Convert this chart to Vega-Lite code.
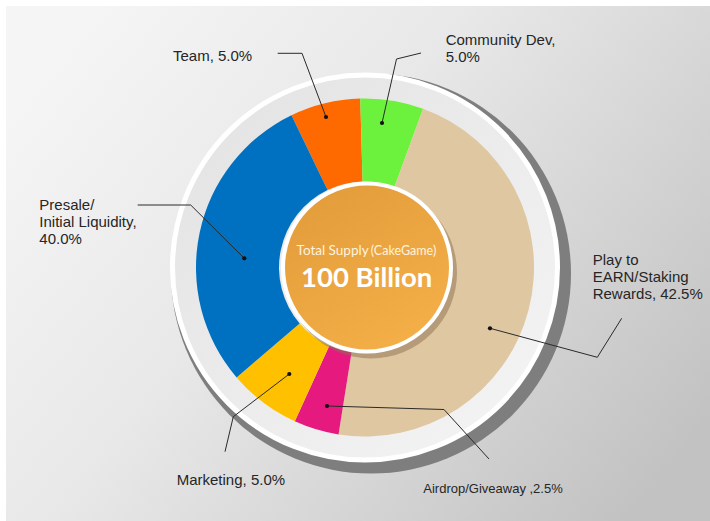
{
  "$schema": "https://vega.github.io/schema/vega-lite/v6.json",
  "width": 710,
  "height": 521,
  "autosize": {"type": "fit", "contains": "padding"},
  "padding": 0,
  "background": "#ffffff",
  "config": {"view": {"stroke": null}},
  "datasets": {
    "segments": [
      {"segment": "Team", "drawn_pct": 6.72, "order": 1},
      {"segment": "Community Dev", "drawn_pct": 6.03, "order": 2},
      {"segment": "Play to EARN/Staking Rewards", "drawn_pct": 46.92, "order": 3},
      {"segment": "Airdrop/Giveaway", "drawn_pct": 4.31, "order": 4},
      {"segment": "Marketing", "drawn_pct": 6.92, "order": 5},
      {"segment": "Presale/Initial Liquidity", "drawn_pct": 29.1, "order": 6}
    ],
    "leaders": [
      {"segment": "Team", "step": 0, "x": -39, "y": 150.5},
      {"segment": "Team", "step": 1, "x": -63, "y": 214.2},
      {"segment": "Team", "step": 2, "x": -87.3, "y": 214.2},
      {"segment": "Community Dev", "step": 0, "x": 17, "y": 144.5},
      {"segment": "Community Dev", "step": 1, "x": 31.5, "y": 208.5},
      {"segment": "Community Dev", "step": 2, "x": 56, "y": 214.5},
      {"segment": "Presale/Initial Liquidity", "step": 0, "x": -120.7, "y": 9.2},
      {"segment": "Presale/Initial Liquidity", "step": 1, "x": -174.3, "y": 62.5},
      {"segment": "Presale/Initial Liquidity", "step": 2, "x": -227.3, "y": 62.5},
      {"segment": "Marketing", "step": 0, "x": -75.7, "y": -106.5},
      {"segment": "Marketing", "step": 1, "x": -131.7, "y": -149.2},
      {"segment": "Marketing", "step": 2, "x": -140, "y": -184.2},
      {"segment": "Airdrop/Giveaway", "step": 0, "x": -38, "y": -138.5},
      {"segment": "Airdrop/Giveaway", "step": 1, "x": 79, "y": -142},
      {"segment": "Airdrop/Giveaway", "step": 2, "x": 124, "y": -191.5},
      {"segment": "Play to EARN/Staking Rewards", "step": 0, "x": 125, "y": -60.8},
      {"segment": "Play to EARN/Staking Rewards", "step": 1, "x": 232.3, "y": -89.8},
      {"segment": "Play to EARN/Staking Rewards", "step": 2, "x": 256.7, "y": -50.8}
    ],
    "labels": [
      {"label": "Team, 5.0%", "x": -192, "y": 206.8},
      {"label": "Community Dev,\n5.0%", "x": 80.7, "y": 222.5},
      {"label": "Presale/\nInitial Liquidity,\n40.0%", "x": -325.7, "y": 58},
      {"label": "Marketing, 5.0%", "x": -188.3, "y": -217.5},
      {"label": "Play to\nEARN/Staking\nRewards, 42.5%", "x": 227.7, "y": 2.5}
    ]
  },
  "layer": [
    {
      "data": {"values": [{}]},
      "mark": {
        "type": "rect",
        "fill": {
          "gradient": "linear", "x1": 0, "y1": 0.2, "x2": 1, "y2": 0.8,
          "stops": [
            {"offset": 0, "color": "#f5f5f5"},
            {"offset": 0.4, "color": "#e8e8e8"},
            {"offset": 1, "color": "#c2c2c2"}
          ]
        }
      },
      "encoding": {
        "x": {"datum": -359, "type": "quantitative", "scale": {"domain": [-365, 345], "nice": false, "zero": false}, "axis": null},
        "x2": {"datum": 345},
        "y": {"datum": 261.5, "type": "quantitative", "scale": {"domain": [-253.5, 267.5], "nice": false, "zero": false}, "axis": null},
        "y2": {"datum": -253.5}
      }
    },
    {
      "data": {"values": [{}]},
      "mark": {"type": "arc", "radius": 200, "theta": 0, "theta2": 6.2832, "fill": "#7e7e7e"},
      "encoding": {
        "x": {"datum": 6, "type": "quantitative"},
        "y": {"datum": -6, "type": "quantitative"}
      }
    },
    {
      "data": {"values": [{}]},
      "mark": {
        "type": "arc", "radius": 192.5, "theta": 0, "theta2": 6.2832,
        "stroke": "#ffffff", "strokeWidth": 5,
        "fill": {
          "gradient": "linear", "x1": 0, "y1": 0, "x2": 1, "y2": 1,
          "stops": [
            {"offset": 0, "color": "#e2e2e2"},
            {"offset": 1, "color": "#f5f5f5"}
          ]
        }
      },
      "encoding": {
        "x": {"datum": 0, "type": "quantitative"},
        "y": {"datum": 0, "type": "quantitative"}
      }
    },
    {
      "data": {"name": "segments"},
      "mark": {"type": "arc", "radius": 169, "radius2": 86},
      "encoding": {
        "x": {"datum": 0, "type": "quantitative"},
        "y": {"datum": 0, "type": "quantitative"},
        "theta": {
          "field": "drawn_pct", "type": "quantitative", "stack": true,
          "scale": {"domain": [0, 100], "range": [-0.4503, 5.8329]}
        },
        "order": {"field": "order", "type": "quantitative"},
        "color": {
          "field": "segment", "type": "nominal", "legend": null,
          "scale": {
            "domain": ["Team", "Community Dev", "Play to EARN/Staking Rewards", "Airdrop/Giveaway", "Marketing", "Presale/Initial Liquidity"],
            "range": ["#ff6a00", "#6cf23c", "#dfc7a1", "#e6197f", "#ffc000", "#0070c0"]
          }
        }
      }
    },
    {
      "data": {"values": [{}]},
      "mark": {"type": "arc", "radius": 86, "theta": 0, "theta2": 6.2832, "fill": "#8c7050", "opacity": 0.5},
      "encoding": {
        "x": {"datum": 6, "type": "quantitative"},
        "y": {"datum": -5, "type": "quantitative"}
      }
    },
    {
      "data": {"values": [{}]},
      "mark": {
        "type": "arc", "radius": 84, "theta": 0, "theta2": 6.2832,
        "stroke": "#ffffff", "strokeWidth": 4,
        "fill": {
          "gradient": "linear", "x1": 0.2, "y1": 0, "x2": 0.8, "y2": 1,
          "stops": [
            {"offset": 0, "color": "#e29c3b"},
            {"offset": 1, "color": "#f5b048"}
          ]
        }
      },
      "encoding": {
        "x": {"datum": 2, "type": "quantitative"},
        "y": {"datum": 0, "type": "quantitative"}
      }
    },
    {
      "data": {"values": [{}]},
      "mark": {"type": "text", "text": "Total Supply", "align": "right", "baseline": "alphabetic", "font": "Lato", "fontSize": 13.5, "color": "#fff3df"},
      "encoding": {
        "x": {"datum": 3.6, "type": "quantitative"},
        "y": {"datum": 12.5, "type": "quantitative"}
      }
    },
    {
      "data": {"values": [{}]},
      "mark": {"type": "text", "text": "(CakeGame)", "align": "left", "baseline": "alphabetic", "font": "Lato", "fontSize": 12.5, "color": "#fff3df"},
      "encoding": {
        "x": {"datum": 5.8, "type": "quantitative"},
        "y": {"datum": 12.5, "type": "quantitative"}
      }
    },
    {
      "data": {"values": [{}]},
      "mark": {"type": "text", "text": "100 Billion", "align": "center", "baseline": "alphabetic", "font": "Lato", "fontWeight": "bold", "fontSize": 27.5, "color": "#ffffff"},
      "encoding": {
        "x": {"datum": 1.7, "type": "quantitative"},
        "y": {"datum": -19, "type": "quantitative"}
      }
    },
    {
      "data": {"name": "leaders"},
      "mark": {"type": "line", "color": "#2a2a2a", "strokeWidth": 1},
      "encoding": {
        "x": {"field": "x", "type": "quantitative"},
        "y": {"field": "y", "type": "quantitative"},
        "detail": {"field": "segment"},
        "order": {"field": "step", "type": "quantitative"}
      }
    },
    {
      "data": {"name": "leaders"},
      "transform": [{"filter": "datum.step === 0"}],
      "mark": {"type": "point", "shape": "circle", "filled": true, "size": 18, "color": "#111111", "opacity": 1},
      "encoding": {
        "x": {"field": "x", "type": "quantitative"},
        "y": {"field": "y", "type": "quantitative"}
      }
    },
    {
      "data": {"name": "labels"},
      "mark": {"type": "text", "align": "left", "baseline": "alphabetic", "lineBreak": "\n", "lineHeight": 17, "font": "Liberation Sans", "fontSize": 15, "color": "#262626"},
      "encoding": {
        "x": {"field": "x", "type": "quantitative"},
        "y": {"field": "y", "type": "quantitative"},
        "text": {"field": "label", "type": "nominal"}
      }
    },
    {
      "data": {"values": [{"label": "Airdrop/Giveaway ,2.5%", "x": 58.3, "y": -225.2}]},
      "mark": {"type": "text", "align": "left", "baseline": "alphabetic", "font": "Liberation Sans", "fontSize": 13, "color": "#262626"},
      "encoding": {
        "x": {"field": "x", "type": "quantitative"},
        "y": {"field": "y", "type": "quantitative"},
        "text": {"field": "label", "type": "nominal"}
      }
    }
  ]
}
